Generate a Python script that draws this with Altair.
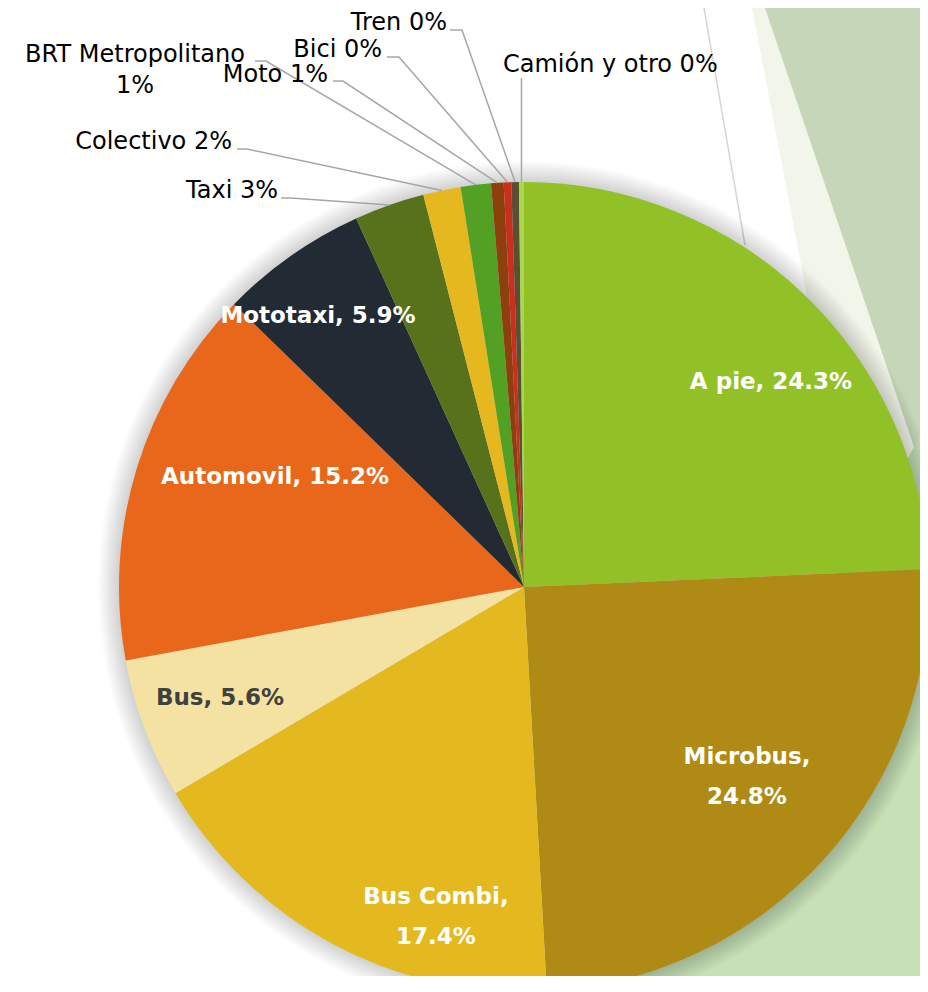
import math
import altair as alt
import pandas as pd

# ---------------- data ----------------
categorias = ["A pie", "Microbus", "Bus Combi", "Bus", "Automovil", "Mototaxi",
              "Taxi", "Colectivo", "BRT Metropolitano", "Moto", "Bici", "Tren",
              "Camión y otro"]
valores = [24.3, 24.8, 17.4, 5.6, 15.2, 5.9, 2.8, 1.5, 1.2, 0.5, 0.3, 0.3, 0.2]
colores = ["#92C127", "#AF8A15", "#E4B920", "#F4E2A3", "#E8671A", "#222B33",
           "#57721B", "#E5B820", "#52A024", "#8D3F0D", "#C8301D", "#5B4E34",
           "#A9D74E"]

etiquetas_internas = {
    "A pie": ["A pie, 24.3%"],
    "Microbus": ["Microbus,", "24.8%"],
    "Bus Combi": ["Bus Combi,", "17.4%"],
    "Bus": ["Bus, 5.6%"],
    "Automovil": ["Automovil, 15.2%"],
    "Mototaxi": ["Mototaxi, 5.9%"],
}
etiquetas_externas = {
    "Taxi": ["Taxi 3%"],
    "Colectivo": ["Colectivo 2%"],
    "BRT Metropolitano": ["BRT Metropolitano", "1%"],
    "Moto": ["Moto 1%"],
    "Bici": ["Bici 0%"],
    "Tren": ["Tren 0%"],
    "Camión y otro": ["Camión y otro 0%"],
}

# ---------------- layout ----------------
W, H = 912, 968
CX, CY, R = 516, 579, 405

# inner label anchor: (x, y of first line centre, colour)
pos_internas = {
    "A pie": (763, 374, "white"),
    "Microbus": (739, 749, "white"),
    "Bus Combi": (428, 889, "white"),
    "Bus": (212, 690, "#404040"),
    "Automovil": (267, 469, "white"),
    "Mototaxi": (310, 308, "white"),
}
# outer label: text anchor (x, baseline y, align), leader start (x, y), elbow dx
pos_externas = {
    "Taxi": (270, 190, "right", (273, 190), 10),
    "Colectivo": (224, 141, "right", (229, 141), 10),
    "BRT Metropolitano": (127, 54, "center", (247, 53), 11),
    "Moto": (320, 74, "right", (325, 73), 10),
    "Bici": (374, 49, "right", (379, 49), 12),
    "Tren": (439, 22, "right", (442, 22), 12),
    "Camión y otro": (495, 64, "left", (513, 70), 0),
}

df = pd.DataFrame({"categoria": categorias, "valor": valores,
                   "orden": list(range(len(categorias)))})

# slice mid angles derived from the values -> edge points for leader lines
total = sum(valores)
borde = {}
acum = 0.0
for c, v in zip(categorias, valores):
    mid = (acum + v / 2) / total * 2 * math.pi
    borde[c] = (CX + R * math.sin(mid), CY - R * math.cos(mid))
    acum += v

filas_int = []
for c, lineas in etiquetas_internas.items():
    x, y, col = pos_internas[c]
    filas_int.append({"categoria": c, "lineas": lineas, "x": x, "y": y, "col": col})
df_int = pd.DataFrame(filas_int)

filas_ext, filas_lin = [], []
for c, lineas in etiquetas_externas.items():
    x, y, al, (sx, sy), edx = pos_externas[c]
    filas_ext.append({"categoria": c, "lineas": lineas, "x": x, "y": y, "al": al})
    ex, ey = borde[c]
    if edx:
        pts = [(sx, sy), (sx + edx, sy)]
    else:
        pts = [(ex, sy)]
    pts.append((ex, ey))
    for i, (px, py) in enumerate(pts):
        filas_lin.append({"categoria": c, "i": i, "x": px, "y": py})
df_lin = pd.DataFrame(filas_lin)

# ---------------- background decoration ----------------
def zona(puntos, color):
    d = pd.DataFrame(puntos, columns=["y", "x"])
    d["x2"] = W
    return alt.Chart(d).mark_area(orient="horizontal", color=color).encode(
        y=alt.Y("y:Q", scale=None), x=alt.X("x:Q", scale=None), x2="x2:Q")

fondo = [
    zona([(0, 744), (921, 920), (968, 920)], "#F1F5EA"),
    zona([(0, 757), (480, 920)], "#C5D6B9"),
    zona([(412, 920), (968, 630)], "#C7E0B6"),
]
linea_fondo = alt.Chart(pd.DataFrame({"x": [696, 737], "y": [0, 237]})).mark_line(
    color="#D6D6D6", strokeWidth=1.5).encode(
    x=alt.X("x:Q", scale=None), y=alt.Y("y:Q", scale=None))

sombra = []
lleno = pd.DataFrame({"v": [total]})
for k in range(1, 16):
    sombra.append(alt.Chart(lleno).mark_arc(outerRadius=R + k * 1.4, color="black",
                                            opacity=0.011).encode(
        theta="v:Q", x=alt.value(CX), y=alt.value(CY)))

# ---------------- pie ----------------
pie = alt.Chart(df).mark_arc(outerRadius=R, strokeWidth=0).encode(
    theta=alt.Theta("valor:Q", stack=True),
    color=alt.Color("categoria:N", scale=alt.Scale(domain=categorias, range=colores),
                    legend=None),
    order=alt.Order("orden:Q"),
    x=alt.value(CX), y=alt.value(CY),
)

lineas_guia = alt.Chart(df_lin).mark_line(color="#A6A6A6", strokeWidth=1.5).encode(
    x=alt.X("x:Q", scale=None), y=alt.Y("y:Q", scale=None),
    detail="categoria:N", order="i:Q")

txt_int = alt.Chart(df_int).mark_text(
    font="DejaVu Sans", fontSize=23, fontWeight="bold", align="center",
    baseline="middle", lineHeight=40).encode(
    x=alt.X("x:Q", scale=None), y=alt.Y("y:Q", scale=None),
    text=alt.Text("lineas"), color=alt.Color("col:N", scale=None))

capas_ext = []
for al in ["left", "center", "right"]:
    d = pd.DataFrame([r for r in filas_ext if r["al"] == al])
    capas_ext.append(alt.Chart(d).mark_text(
        font="DejaVu Sans", fontSize=24, color="#000000", align=al,
        baseline="alphabetic", lineHeight=31).encode(
        x=alt.X("x:Q", scale=None), y=alt.Y("y:Q", scale=None),
        text=alt.Text("lineas")))

chart = alt.layer(*fondo, linea_fondo, *sombra, pie, lineas_guia, txt_int,
                  *capas_ext).properties(
    width=W, height=H, padding=0, autosize=alt.AutoSizeParams(type="none"),
    background="white",
).configure_view(stroke=None)

chart.save("out.html", embed_options={"renderer": "svg", "actions": False})
